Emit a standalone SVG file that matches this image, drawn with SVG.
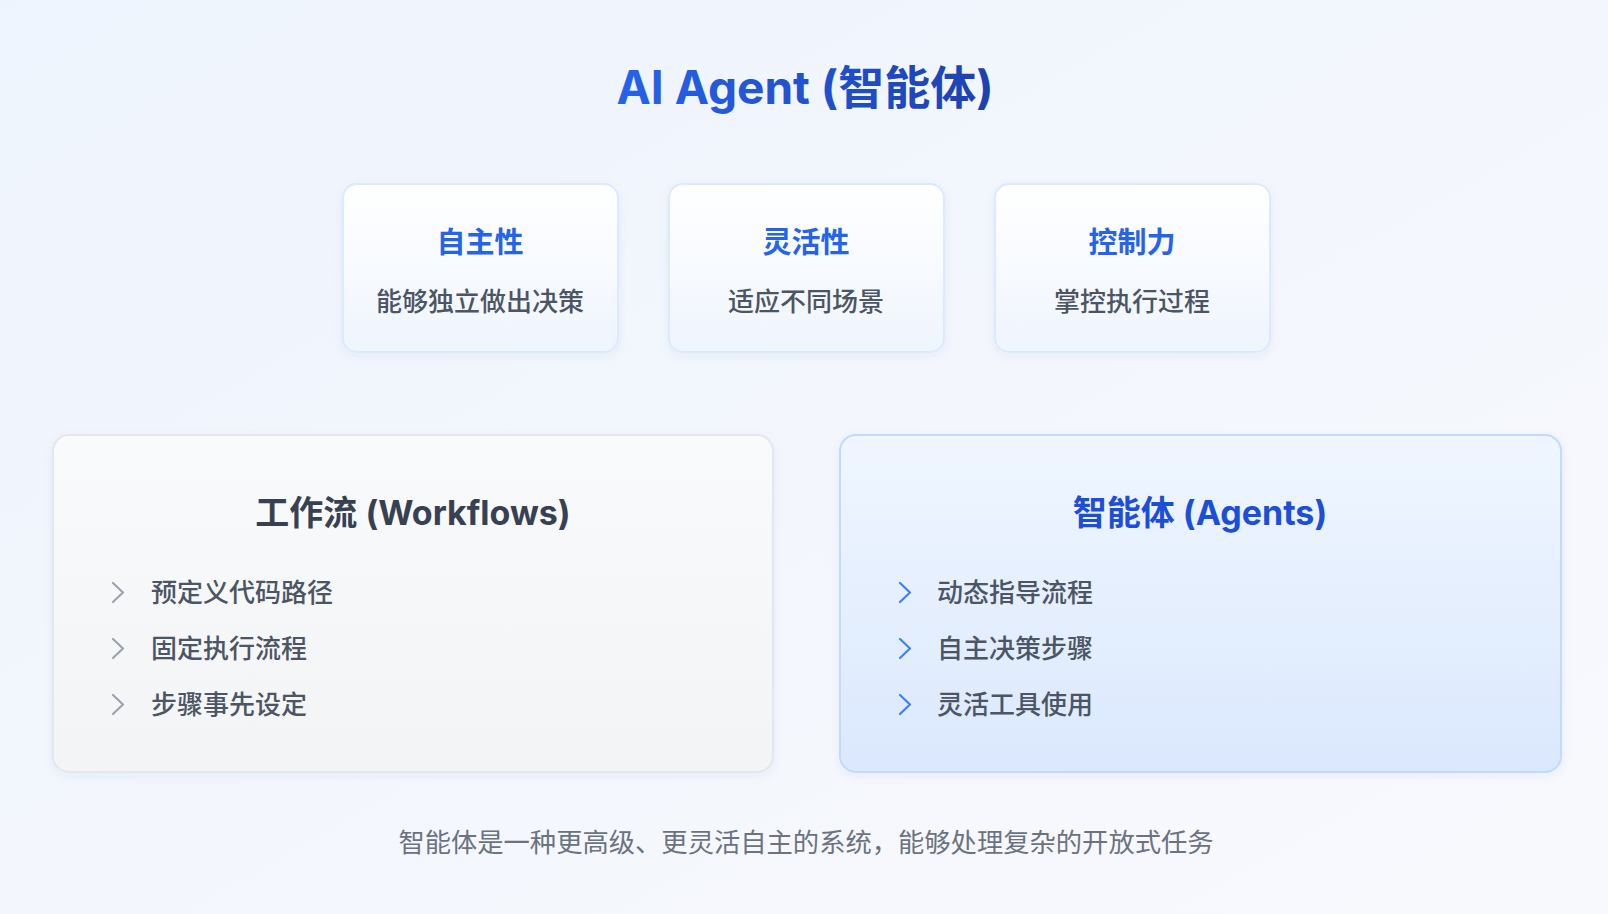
<svg xmlns="http://www.w3.org/2000/svg" width="1608" height="914" viewBox="0 0 1608 914">
<defs>
<linearGradient id="bg" x1="0" y1="0" x2="1" y2="1"><stop offset="0" stop-color="#eef4fd"/><stop offset="1" stop-color="#f8f9fd"/></linearGradient>
<linearGradient id="titleGrad" x1="0" y1="0" x2="1" y2="0"><stop offset="0" stop-color="#2563eb"/><stop offset="1" stop-color="#1e40af"/></linearGradient>
<linearGradient id="smallCard" x1="0" y1="0" x2="0" y2="1"><stop offset="0" stop-color="#ffffff"/><stop offset="1" stop-color="#eff5fe"/></linearGradient>
<linearGradient id="wfCard" x1="0" y1="0" x2="0" y2="1"><stop offset="0" stop-color="#f9fafb"/><stop offset="1" stop-color="#f3f4f6"/></linearGradient>
<linearGradient id="agCard" x1="0" y1="0" x2="0" y2="1"><stop offset="0" stop-color="#eff6ff"/><stop offset="1" stop-color="#dbe8fd"/></linearGradient>
<filter id="shadow" x="-10%" y="-10%" width="120%" height="130%"><feDropShadow dx="0" dy="3" stdDeviation="5" flood-color="#1e3a8a" flood-opacity="0.06"/></filter>
</defs>
<style>
.cjk{font-family:"Inter","Noto Sans CJK SC",sans-serif}
.main{font-size:46px;font-weight:700;fill:url(#titleGrad)}
.ct{font-size:29px;font-weight:700;fill:#2563eb;text-anchor:middle}
.cs{font-size:26px;font-weight:500;fill:#4b5563;text-anchor:middle}
.ht{font-size:34px;font-weight:700;text-anchor:middle}
.li{font-size:26px;font-weight:500;fill:#4b5563}
.foot{font-size:26.3px;font-weight:400;fill:#6b7280;text-anchor:middle}
.sc{fill:url(#smallCard);stroke:#dbeafe;stroke-width:2}
.chev{fill:none;stroke-width:2.2;stroke-linecap:round;stroke-linejoin:round}
</style>
<rect width="1608" height="914" fill="url(#bg)"/>
<g id="title"><text class="cjk main" x="805" y="104" text-anchor="middle">AI Agent (智能体)</text></g>
<g id="card-autonomy">
<rect class="sc" x="343" y="184" width="275" height="168" rx="14" filter="url(#shadow)"/>
<text class="cjk ct" x="480" y="253">自主性</text>
<text class="cjk cs" x="480" y="311">能够独立做出决策</text>
</g>
<g id="card-flexibility">
<rect class="sc" x="669" y="184" width="275" height="168" rx="14" filter="url(#shadow)"/>
<text class="cjk ct" x="806" y="253">灵活性</text>
<text class="cjk cs" x="806" y="311">适应不同场景</text>
</g>
<g id="card-control">
<rect class="sc" x="995" y="184" width="275" height="168" rx="14" filter="url(#shadow)"/>
<text class="cjk ct" x="1132" y="253">控制力</text>
<text class="cjk cs" x="1132" y="311">掌控执行过程</text>
</g>
<g id="workflows">
<rect x="53" y="435" width="720" height="337" rx="16" fill="url(#wfCard)" stroke="#e5e7eb" stroke-width="2" filter="url(#shadow)"/>
<text class="cjk ht" x="413" y="525" fill="#374151">工作流 (Workflows)</text>
<g class="chev" stroke="#9ca3af">
<polyline points="113,583 123,592.5 113,602"/>
<polyline points="113,639 123,648.5 113,658"/>
<polyline points="113,695 123,704.5 113,714"/>
</g>
<text class="cjk li" x="151" y="602">预定义代码路径</text>
<text class="cjk li" x="151" y="658">固定执行流程</text>
<text class="cjk li" x="151" y="714">步骤事先设定</text>
</g>
<g id="agents">
<rect x="840" y="435" width="721" height="337" rx="16" fill="url(#agCard)" stroke="#bfdbfe" stroke-width="2" filter="url(#shadow)"/>
<text class="cjk ht" x="1200" y="525" fill="#1d4ed8">智能体 (Agents)</text>
<g class="chev" stroke="#3b82f6">
<polyline points="900,583 910,592.5 900,602"/>
<polyline points="900,639 910,648.5 900,658"/>
<polyline points="900,695 910,704.5 900,714"/>
</g>
<text class="cjk li" x="937" y="602">动态指导流程</text>
<text class="cjk li" x="937" y="658">自主决策步骤</text>
<text class="cjk li" x="937" y="714">灵活工具使用</text>
</g>
<g id="connectors"/>
<g id="footer"><text class="cjk foot" x="806" y="852">智能体是一种更高级、更灵活自主的系统，能够处理复杂的开放式任务</text></g>
</svg>
